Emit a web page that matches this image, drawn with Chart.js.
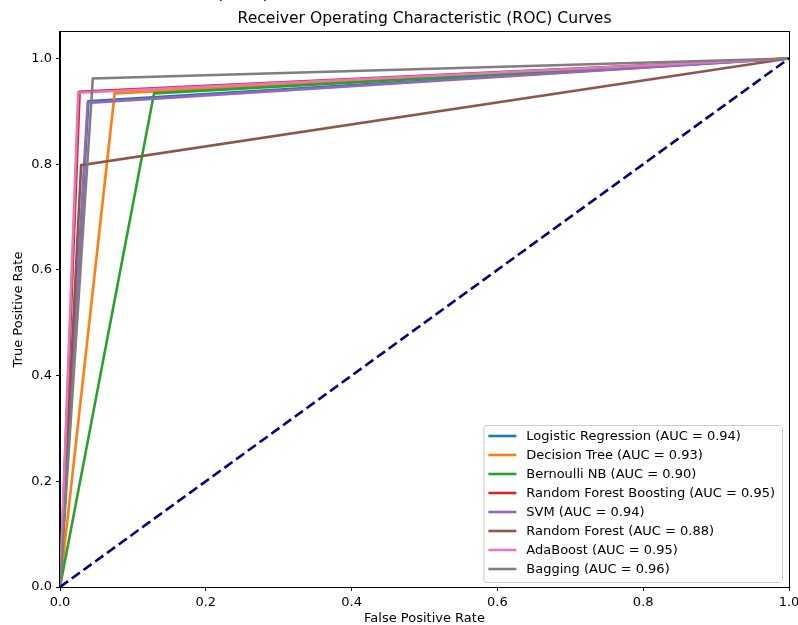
<!DOCTYPE html>
<html>
<head>
<meta charset="utf-8">
<script src="https://cdn.jsdelivr.net/npm/chart.js@4"></script>
<style>
  html, body { margin: 0; padding: 0; background: #fff; }
  canvas { display: block; }
</style>
</head>
<body>
<canvas id="rocChart" width="798" height="625"></canvas>
<script>
// ROC curves, one knee point per model
const modelNames = [
  'Logistic Regression',
  'Decision Tree',
  'Bernoulli NB',
  'Random Forest Boosting',
  'SVM',
  'Random Forest',
  'AdaBoost',
  'Bagging'
]
const aucValues = [0.94, 0.93, 0.90, 0.95, 0.94, 0.88, 0.95, 0.96]
const kneeFpr = [0.039, 0.075, 0.129, 0.027, 0.038, 0.029, 0.025, 0.045]
const kneeTpr = [0.919, 0.934, 0.934, 0.937, 0.916, 0.798, 0.935, 0.962]
const modelColors = ['#1f77b4', '#ff7f0e', '#2ca02c', '#d62728', '#9467bd', '#8c564b', '#e377c2', '#7f7f7f']

const diagonalX = [0, 1]
const diagonalY = [0, 1]

const xTicks = [0, 0.2, 0.4, 0.6, 0.8, 1.0]
const yTicks = [0, 0.2, 0.4, 0.6, 0.8, 1.0]

const FONT = "'DejaVu Sans', sans-serif"
Chart.defaults.font.family = FONT
Chart.defaults.font.size = 13
Chart.defaults.color = '#000'

const datasets = modelNames.map((name, i) => ({
  label: `${name} (AUC = ${aucValues[i].toFixed(2)})`,
  data: [
    { x: 0, y: 0 },
    { x: kneeFpr[i], y: kneeTpr[i] },
    { x: 1, y: 1 }
  ],
  borderColor: modelColors[i],
  backgroundColor: modelColors[i],
  borderWidth: 2.6,
  showLine: true,
  pointRadius: 0,
  order: 100 - i // later series on top, like matplotlib
}))

datasets.push({
  label: 'chance',
  data: diagonalX.map((x, i) => ({ x: x, y: diagonalY[i] })),
  borderColor: '#000080',
  borderWidth: 2.6,
  borderDash: [10, 4.5],
  showLine: true,
  pointRadius: 0,
  order: 0,
  inLegend: false
})

// frame around the axes, legend box inside the plot, clipped text at top
const framePlugin = {
  id: 'framePlugin',
  afterDraw (chart) {
    const ctx = chart.ctx
    const a = chart.chartArea
    ctx.save()
    ctx.strokeStyle = '#000'
    ctx.lineWidth = 1
    ctx.strokeRect(Math.round(a.left) - 0.5, Math.round(a.top) - 0.5, Math.round(a.right - a.left) + 1, Math.round(a.bottom - a.top) + 1)

    // legend
    const items = chart.data.datasets.filter(d => d.inLegend !== false)
    ctx.font = `13px ${FONT}`
    const maxText = Math.max(...items.map(d => ctx.measureText(d.label).width))
    const rowH = 19
    const boxW = 5 + 28 + 10 + maxText + 7
    const boxH = 11 + (items.length - 1) * rowH + 13
    const right = a.right - 7
    const bottom = a.bottom - 5
    const left = right - boxW
    const top = bottom - boxH
    ctx.beginPath()
    ctx.roundRect(left + 0.5, top + 0.5, boxW, boxH, 3)
    ctx.fillStyle = 'rgba(255,255,255,0.8)'
    ctx.fill()
    ctx.strokeStyle = '#cccccc'
    ctx.stroke()
    items.forEach((d, i) => {
      const y = top + 11 + i * rowH
      ctx.beginPath()
      ctx.moveTo(left + 5, y)
      ctx.lineTo(left + 33, y)
      ctx.strokeStyle = d.borderColor
      ctx.lineWidth = 2.6
      ctx.stroke()
      ctx.fillStyle = '#000'
      ctx.textAlign = 'left'
      ctx.textBaseline = 'middle'
      ctx.fillText(d.label, left + 43, y + 0.5)
    })

    // bottom of a title cut off above this figure
    ctx.font = `18px ${FONT}`
    ctx.textAlign = 'center'
    ctx.textBaseline = 'alphabetic'
    ctx.fillStyle = '#000'
    ctx.fillText('(ROC)', 243, -0.8)
    ctx.restore()
  }
}

new Chart(document.getElementById('rocChart'), {
  type: 'scatter',
  data: { datasets: datasets },
  options: {
    responsive: false,
    animation: false,
    layout: { padding: { left: 0, right: 9, top: 0, bottom: 0 } },
    scales: {
      x: {
        type: 'linear',
        min: 0,
        max: 1,
        afterFit (scale) {
          scale.height = 38
          scale.paddingLeft = 0
          scale.paddingRight = 0
        },
        afterBuildTicks (scale) { scale.ticks = xTicks.map(v => ({ value: v })) },
        ticks: {
          padding: 4,
          maxRotation: 0,
          callback: v => v.toFixed(1)
        },
        grid: { drawOnChartArea: false, tickLength: 4, color: '#000' },
        border: { color: '#000' },
        title: {
          display: true,
          text: 'False Positive Rate',
          font: { size: 13, lineHeight: 1 },
          padding: { top: 0, bottom: 0 }
        }
      },
      y: {
        type: 'linear',
        min: 0,
        max: 1.05,
        afterFit (scale) {
          scale.width = 60
          scale.paddingTop = 0
          scale.paddingBottom = 0
        },
        afterBuildTicks (scale) { scale.ticks = yTicks.map(v => ({ value: v })) },
        ticks: {
          padding: 4,
          callback: v => v.toFixed(1)
        },
        grid: { drawOnChartArea: false, tickLength: 4, color: '#000' },
        border: { color: '#000' },
        title: {
          display: true,
          text: 'True Positive Rate',
          font: { size: 13, lineHeight: 1 },
          padding: { top: 12, bottom: 0 }
        }
      }
    },
    plugins: {
      legend: { display: false },
      tooltip: { enabled: false },
      title: {
        display: true,
        text: 'Receiver Operating Characteristic (ROC) Curves',
        fullSize: false,
        font: { size: 15.6, weight: 'normal', lineHeight: 1.2 },
        color: '#000',
        padding: { top: 9.5, bottom: 3.8 }
      }
    }
  },
  plugins: [framePlugin]
})
</script>
</body>
</html>
